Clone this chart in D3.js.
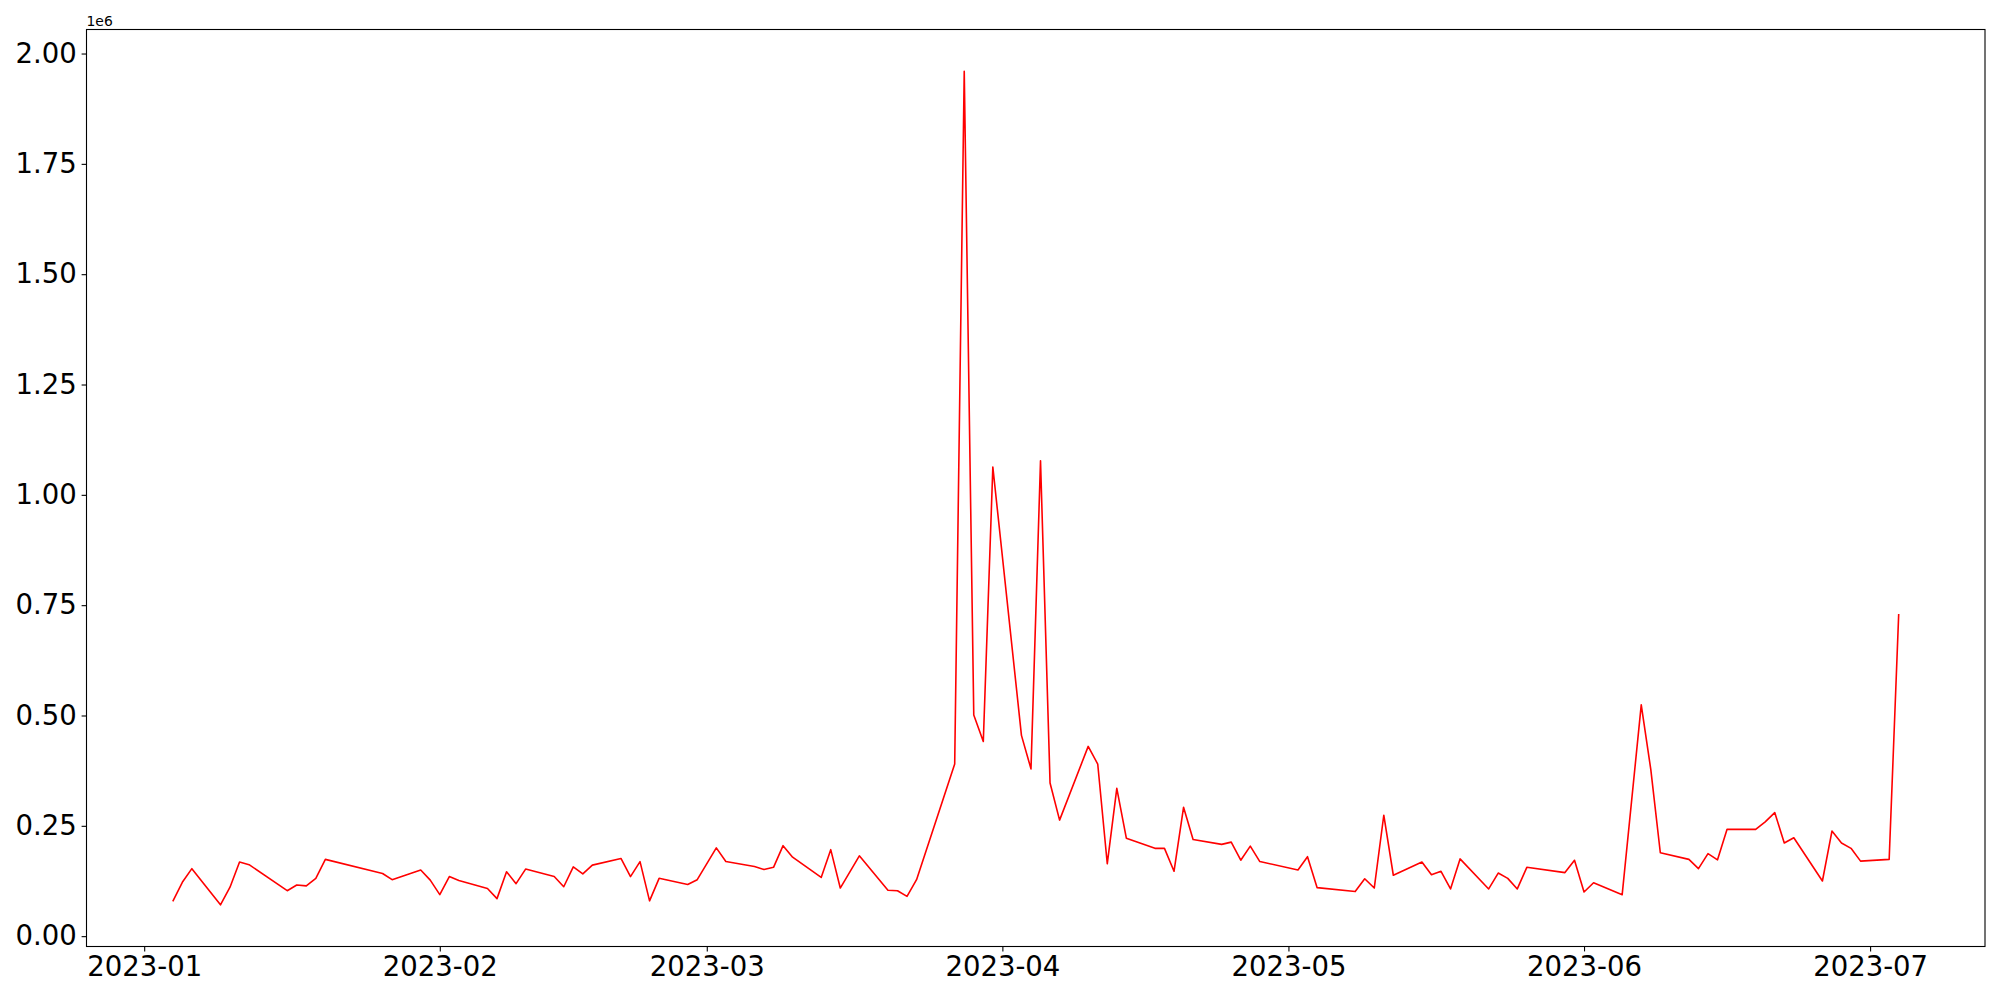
<!DOCTYPE html>
<html>
<head>
<meta charset="utf-8">
<script src="https://cdn.jsdelivr.net/npm/d3@7"></script>
<style>
  html, body { margin: 0; padding: 0; background: #fff; }
  svg { display: block; }
  text { font-family: "DejaVu Sans", sans-serif; fill: #000; }
</style>
</head>
<body>
<svg id="chart" width="2000" height="1000"></svg>
<script>
const dates = [
  "2023-01-04","2023-01-05","2023-01-06","2023-01-09","2023-01-10","2023-01-11","2023-01-12",
  "2023-01-16","2023-01-17","2023-01-18","2023-01-19","2023-01-20","2023-01-26","2023-01-27",
  "2023-01-30","2023-01-31","2023-02-01","2023-02-02","2023-02-03","2023-02-06","2023-02-07",
  "2023-02-08","2023-02-09","2023-02-10","2023-02-13","2023-02-14","2023-02-15","2023-02-16",
  "2023-02-17","2023-02-20","2023-02-21","2023-02-22","2023-02-23","2023-02-24","2023-02-27",
  "2023-02-28","2023-03-02","2023-03-03","2023-03-06","2023-03-07","2023-03-08","2023-03-09",
  "2023-03-10","2023-03-13","2023-03-14","2023-03-15","2023-03-17","2023-03-20","2023-03-21",
  "2023-03-22","2023-03-23","2023-03-27","2023-03-28","2023-03-29","2023-03-30","2023-03-31",
  "2023-04-03","2023-04-04","2023-04-05","2023-04-06","2023-04-07","2023-04-10","2023-04-11",
  "2023-04-12","2023-04-13","2023-04-14","2023-04-17","2023-04-18","2023-04-19","2023-04-20",
  "2023-04-21","2023-04-24","2023-04-25","2023-04-26","2023-04-27","2023-04-28","2023-05-02",
  "2023-05-03","2023-05-04","2023-05-08","2023-05-09","2023-05-10","2023-05-11","2023-05-12",
  "2023-05-15","2023-05-16","2023-05-17","2023-05-18","2023-05-19","2023-05-22","2023-05-23",
  "2023-05-24","2023-05-25","2023-05-26","2023-05-30","2023-05-31","2023-06-01","2023-06-02",
  "2023-06-05","2023-06-07","2023-06-08","2023-06-09","2023-06-12","2023-06-13","2023-06-14",
  "2023-06-15","2023-06-16","2023-06-19","2023-06-20","2023-06-21","2023-06-22","2023-06-23",
  "2023-06-26","2023-06-27","2023-06-28","2023-06-29","2023-06-30","2023-07-03","2023-07-04"
];
const values = [
  79000,122000,153000,71000,111000,168000,162000,
  103000,116000,114000,131000,174000,142000,128000,
  150000,127000,94000,135000,126000,108000,85000,
  146000,119000,152000,135000,112000,157000,141000,
  161000,176000,135000,169000,80000,131000,117000,
  128000,200000,169000,158000,151000,156000,205000,
  179000,133000,196000,109000,182000,104000,103000,
  90000,128000,390000,1960000,501000,441000,1063000,
  455000,379000,1077000,347000,263000,430000,390000,
  164000,335000,222000,199000,199000,147000,292000,
  219000,208000,213000,172000,204000,169000,150000,
  180000,110000,101000,130000,109000,274000,138000,
  168000,139000,147000,107000,175000,107000,143000,
  131000,107000,156000,144000,172000,100000,121000,
  94000,524000,378000,189000,174000,153000,187000,
  173000,242000,242000,259000,280000,211000,223000,
  125000,238000,211000,199000,170000,174000,730000
];
const yTickValues = [0, 250000, 500000, 750000, 1000000, 1250000, 1500000, 1750000, 2000000];
const yTickLabels = ["0.00","0.25","0.50","0.75","1.00","1.25","1.50","1.75","2.00"];
const offsetLabel = "1e6";

const parse = d3.utcParse("%Y-%m-%d");
const data = dates.map((d, i) => ({ date: parse(d), value: values[i] }));

const svg = d3.select("#chart");
const plot = { left: 86.5, right: 1985, top: 29.5, bottom: 946.5 };

// matplotlib-style 5% margins
const xExt = d3.extent(data, d => d.date);
const xSpan = xExt[1] - xExt[0];
const x = d3.scaleUtc()
  .domain([new Date(+xExt[0] - 0.05 * xSpan), new Date(+xExt[1] + 0.05 * xSpan)])
  .range([plot.left, plot.right]);

const yExt = d3.extent(data, d => d.value);
const ySpan = yExt[1] - yExt[0];
const y = d3.scaleLinear()
  .domain([yExt[0] - 0.05 * ySpan, yExt[1] + 0.05 * ySpan])
  .range([plot.bottom, plot.top]);

const fontSize = 27.5;

// X axis
const xAxis = d3.axisBottom(x)
  .ticks(d3.utcMonth.every(1))
  .tickFormat(d3.utcFormat("%Y-%m"))
  .tickSize(4.9)
  .tickPadding(4.9);
const gx = svg.append("g")
  .attr("transform", `translate(0,${plot.bottom})`)
  .call(xAxis);
gx.select(".domain").remove();
gx.selectAll(".tick line").attr("stroke", "#000").attr("stroke-width", 1.1);
gx.selectAll(".tick text")
  .attr("font-size", fontSize)
  .style("font-family", "DejaVu Sans, sans-serif")
  .attr("fill", "#000");

// Y axis
const yAxis = d3.axisLeft(y)
  .tickValues(yTickValues)
  .tickFormat((d, i) => yTickLabels[i])
  .tickSize(4.9)
  .tickPadding(4.9);
const gy = svg.append("g")
  .attr("transform", `translate(${plot.left},0)`)
  .call(yAxis);
gy.select(".domain").remove();
gy.selectAll(".tick line").attr("stroke", "#000").attr("stroke-width", 1.1);
gy.selectAll(".tick text")
  .attr("font-size", fontSize)
  .style("font-family", "DejaVu Sans, sans-serif")
  .attr("fill", "#000");

// offset text
svg.append("text")
  .attr("x", plot.left)
  .attr("y", 25.5)
  .attr("font-size", 13.9)
  .text(offsetLabel);

// line
const line = d3.line()
  .x(d => x(d.date))
  .y(d => y(d.value));

svg.append("path")
  .datum(data)
  .attr("d", line)
  .attr("fill", "none")
  .attr("stroke", "#ff0000")
  .attr("stroke-width", 1.6)
  .attr("stroke-linejoin", "round");

// frame (spines)
svg.append("rect")
  .attr("x", plot.left)
  .attr("y", plot.top)
  .attr("width", plot.right - plot.left)
  .attr("height", plot.bottom - plot.top)
  .attr("fill", "none")
  .attr("stroke", "#000")
  .attr("stroke-width", 1.1);
</script>
</body>
</html>
